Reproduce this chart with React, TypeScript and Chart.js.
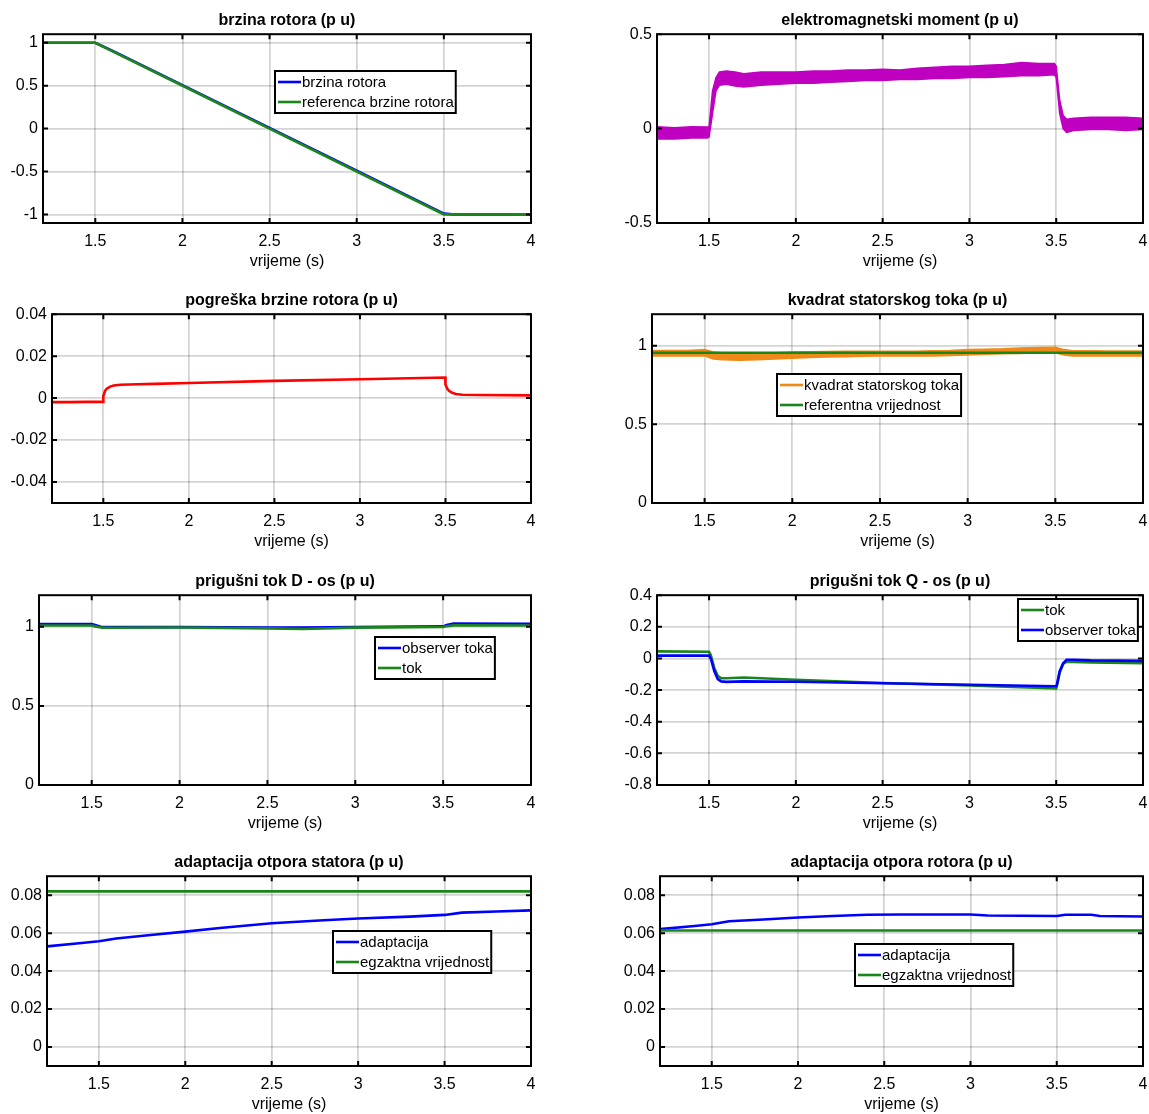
import React, { useEffect, useRef } from "react";
import { Chart, registerables } from "chart.js";
Chart.register(...registerables);

const FONT = "'Liberation Sans', Arial, Helvetica, sans-serif";
const BLUE = "#0000ff";
const GREEN = "#1a861a";
const RED = "#ff0000";
const MAGENTA = "#c000c0";
const ORANGE = "#ee8a18";

// shared x axis
const xTicks = [1.5, 2, 2.5, 3, 3.5, 4];
const xMin = 1.2;
const xMax = 4;

// 1) brzina rotora
const speedT = [1.2, 1.5, 1.6, 2.0, 2.5, 3.0, 3.5, 3.55, 4.0];
const speedRotor = [1.0, 1.0, 0.906, 0.507, 0.008, -0.491, -0.99, -0.999, -1.0];
const refT = [1.2, 1.5, 3.5, 4.0];
const speedRef = [1.0, 1.0, -1.0, -1.0];
const speedYTicks = [-1, -0.5, 0, 0.5, 1];

// 2) elektromagnetski moment (noisy band: upper / lower envelope)
const temT = [1.2, 1.3, 1.4, 1.49, 1.5, 1.52, 1.54, 1.56, 1.6, 1.65, 1.7, 1.8, 1.9, 2.0, 2.1, 2.2, 2.3, 2.4, 2.5, 2.6, 2.7, 2.8, 2.9, 3.0, 3.1, 3.2, 3.3, 3.4, 3.49, 3.5, 3.52, 3.54, 3.56, 3.6, 3.7, 3.8, 3.9, 4.0];
const temUpper = [0.01, 0.005, 0.01, 0.008, 0.01, 0.2, 0.27, 0.3, 0.305, 0.3, 0.29, 0.3, 0.3, 0.3, 0.305, 0.305, 0.31, 0.31, 0.315, 0.31, 0.32, 0.325, 0.33, 0.33, 0.335, 0.34, 0.35, 0.345, 0.345, 0.33, 0.15, 0.07, 0.05, 0.055, 0.06, 0.06, 0.06, 0.055];
const temLower = [-0.055, -0.055, -0.05, -0.05, -0.045, 0.08, 0.2, 0.23, 0.235, 0.225, 0.22, 0.23, 0.235, 0.24, 0.24, 0.245, 0.25, 0.255, 0.255, 0.26, 0.26, 0.265, 0.265, 0.27, 0.27, 0.275, 0.28, 0.28, 0.285, 0.27, 0.08, 0.0, -0.02, -0.01, -0.005, -0.005, -0.01, -0.005];
const temYTicks = [-0.5, 0, 0.5];

// 3) pogreška brzine rotora
const errT = [1.2, 1.3, 1.4, 1.499, 1.5, 1.51, 1.52, 1.54, 1.56, 1.6, 1.7, 1.8, 2.0, 2.5, 3.0, 3.499, 3.5, 3.51, 3.52, 3.54, 3.56, 3.6, 3.7, 4.0];
const errVal = [-0.0019, -0.0019, -0.0018, -0.0018, 0.001, 0.0035, 0.0045, 0.0055, 0.006, 0.0064, 0.0066, 0.0068, 0.0072, 0.0082, 0.009, 0.0098, 0.0065, 0.0045, 0.0035, 0.0025, 0.002, 0.0016, 0.0015, 0.0013];
const errYTicks = [-0.04, -0.02, 0, 0.02, 0.04];

// 4) kvadrat statorskog toka (noisy band) + reference
const fsT = [1.2, 1.3, 1.4, 1.5, 1.55, 1.6, 1.7, 1.8, 1.9, 2.0, 2.1, 2.2, 2.3, 2.4, 2.5, 2.6, 2.7, 2.8, 2.9, 3.0, 3.1, 3.2, 3.3, 3.4, 3.5, 3.55, 3.6, 3.7, 3.8, 3.9, 4.0];
const fsUpper = [0.97, 0.97, 0.97, 0.975, 0.96, 0.955, 0.955, 0.955, 0.955, 0.96, 0.962, 0.963, 0.965, 0.965, 0.965, 0.965, 0.965, 0.968, 0.97, 0.975, 0.978, 0.98, 0.985, 0.988, 0.99, 0.975, 0.968, 0.968, 0.966, 0.966, 0.966];
const fsLower = [0.935, 0.935, 0.935, 0.935, 0.915, 0.91, 0.908, 0.91, 0.915, 0.92, 0.925, 0.928, 0.93, 0.932, 0.935, 0.935, 0.935, 0.935, 0.938, 0.94, 0.945, 0.948, 0.95, 0.955, 0.955, 0.94, 0.935, 0.935, 0.935, 0.935, 0.935];
const fsRefT = [1.2, 4.0];
const fsRef = [0.955, 0.955];
const fsYTicks = [0, 0.5, 1];

// 5) prigušni tok D - os
const dT = [1.2, 1.5, 1.52, 1.56, 2.0, 2.5, 2.7, 3.0, 3.5, 3.52, 3.56, 4.0];
const dObserver = [1.018, 1.018, 1.012, 0.998, 0.998, 0.996, 0.995, 0.999, 1.003, 1.012, 1.02, 1.019];
const dTok = [1.008, 1.008, 1.003, 0.994, 0.996, 0.99, 0.986, 0.995, 1.0, 1.004, 1.009, 1.008];
const dYTicks = [0, 0.5, 1];

// 6) prigušni tok Q - os
const qT = [1.2, 1.5, 1.51, 1.53, 1.55, 1.57, 1.6, 1.7, 2.0, 2.5, 3.0, 3.5, 3.505, 3.52, 3.54, 3.56, 3.6, 3.7, 4.0];
const qTok = [0.045, 0.042, 0.02, -0.06, -0.11, -0.125, -0.125, -0.12, -0.135, -0.155, -0.17, -0.19, -0.17, -0.09, -0.035, -0.02, -0.022, -0.025, -0.03];
const qObserver = [0.018, 0.018, 0.0, -0.08, -0.13, -0.145, -0.148, -0.145, -0.147, -0.157, -0.166, -0.176, -0.16, -0.08, -0.03, -0.008, -0.008, -0.012, -0.015];
const qYTicks = [-0.8, -0.6, -0.4, -0.2, 0, 0.2, 0.4];

// 7) adaptacija otpora statora
const rsT = [1.2, 1.4, 1.5, 1.6, 1.8, 2.0, 2.2, 2.5, 2.8, 3.0, 3.3, 3.5, 3.6, 3.8, 4.0];
const rsAdapt = [0.053, 0.0548, 0.0557, 0.0572, 0.059, 0.0608, 0.0627, 0.0652, 0.0668, 0.0677, 0.0687, 0.0696, 0.0708, 0.0714, 0.072];
const rsExactT = [1.2, 4.0];
const rsExact = [0.082, 0.082];

// 8) adaptacija otpora rotora
const rrT = [1.2, 1.4, 1.5, 1.6, 1.8, 2.0, 2.2, 2.4, 2.6, 3.0, 3.1, 3.5, 3.55, 3.7, 3.75, 4.0];
const rrAdapt = [0.0621, 0.0638, 0.0647, 0.0663, 0.0672, 0.0682, 0.069, 0.0697, 0.0698, 0.0698, 0.0693, 0.069, 0.0697, 0.0697, 0.069, 0.0688];
const rrExactT = [1.2, 4.0];
const rrExact = [0.0614, 0.0614];
const rYTicks = [0, 0.02, 0.04, 0.06, 0.08];

type Line = { kind: "line"; x: number[]; y: number[]; color: string; order: number };
type Band = { kind: "band"; x: number[]; hi: number[]; lo: number[]; color: string; order: number };
type LegendItem = { label: string; color: string };
type Spec = {
  title: string;
  col: 0 | 1;
  t: number; b: number; l: number; r: number;
  yMin: number; yMax: number; yTicks: number[];
  series: (Line | Band)[];
  legend?: { left: number; top: number; items: LegendItem[] };
};

const specs: Spec[] = [
  {
    title: "brzina rotora (p u)", col: 0, t: 34, b: 223, l: 43, r: 531,
    yMin: -1.1, yMax: 1.1, yTicks: speedYTicks,
    series: [
      { kind: "line", x: speedT, y: speedRotor, color: BLUE, order: 2 },
      { kind: "line", x: refT, y: speedRef, color: GREEN, order: 1 },
    ],
    legend: { left: 275, top: 71, items: [{ label: "brzina rotora", color: BLUE }, { label: "referenca brzine rotora", color: GREEN }] },
  },
  {
    title: "elektromagnetski moment (p u)", col: 1, t: 34, b: 223, l: 657, r: 1143,
    yMin: -0.5, yMax: 0.5, yTicks: temYTicks,
    series: [{ kind: "band", x: temT, hi: temUpper, lo: temLower, color: MAGENTA, order: 1 }],
  },
  {
    title: "pogreška brzine rotora (p u)", col: 0, t: 314, b: 503, l: 52, r: 531,
    yMin: -0.05, yMax: 0.04, yTicks: errYTicks,
    series: [{ kind: "line", x: errT, y: errVal, color: RED, order: 1 }],
  },
  {
    title: "kvadrat statorskog toka (p u)", col: 1, t: 314, b: 503, l: 652, r: 1143,
    yMin: 0, yMax: 1.2, yTicks: fsYTicks,
    series: [
      { kind: "band", x: fsT, hi: fsUpper, lo: fsLower, color: ORANGE, order: 2 },
      { kind: "line", x: fsRefT, y: fsRef, color: GREEN, order: 1 },
    ],
    legend: { left: 777, top: 374, items: [{ label: "kvadrat statorskog toka", color: ORANGE }, { label: "referentna vrijednost", color: GREEN }] },
  },
  {
    title: "prigušni tok D - os (p u)", col: 0, t: 595, b: 785, l: 39, r: 531,
    yMin: 0, yMax: 1.2, yTicks: dYTicks,
    series: [
      { kind: "line", x: dT, y: dObserver, color: BLUE, order: 2 },
      { kind: "line", x: dT, y: dTok, color: GREEN, order: 1 },
    ],
    legend: { left: 375, top: 637, items: [{ label: "observer toka", color: BLUE }, { label: "tok", color: GREEN }] },
  },
  {
    title: "prigušni tok Q - os (p u)", col: 1, t: 595, b: 785, l: 657, r: 1143,
    yMin: -0.8, yMax: 0.4, yTicks: qYTicks,
    series: [
      { kind: "line", x: qT, y: qTok, color: GREEN, order: 2 },
      { kind: "line", x: qT, y: qObserver, color: BLUE, order: 1 },
    ],
    legend: { left: 1018, top: 599, items: [{ label: "tok", color: GREEN }, { label: "observer toka", color: BLUE }] },
  },
  {
    title: "adaptacija otpora statora (p u)", col: 0, t: 876, b: 1066, l: 47, r: 531,
    yMin: -0.01, yMax: 0.09, yTicks: rYTicks,
    series: [
      { kind: "line", x: rsT, y: rsAdapt, color: BLUE, order: 2 },
      { kind: "line", x: rsExactT, y: rsExact, color: GREEN, order: 1 },
    ],
    legend: { left: 333, top: 931, items: [{ label: "adaptacija", color: BLUE }, { label: "egzaktna vrijednost", color: GREEN }] },
  },
  {
    title: "adaptacija otpora rotora (p u)", col: 1, t: 876, b: 1066, l: 660, r: 1143,
    yMin: -0.01, yMax: 0.09, yTicks: rYTicks,
    series: [
      { kind: "line", x: rrT, y: rrAdapt, color: BLUE, order: 2 },
      { kind: "line", x: rrExactT, y: rrExact, color: GREEN, order: 1 },
    ],
    legend: { left: 855, top: 944, items: [{ label: "adaptacija", color: BLUE }, { label: "egzaktna vrijednost", color: GREEN }] },
  },
];

const COL_LEFT = [0, 578];
const COL_RIGHT = [545, 1149];

function pts(x: number[], y: number[]) {
  return x.map((v, i) => ({ x: v, y: y[i] }));
}

function Panel({ spec }: { spec: Spec }) {
  const ref = useRef<HTMLCanvasElement | null>(null);
  const cLeft = COL_LEFT[spec.col];
  const cTop = spec.t - 34;
  const cW = COL_RIGHT[spec.col] - cLeft;
  const cH = spec.b - spec.t + 84;

  useEffect(() => {
    if (!ref.current) return;
    const datasets: any[] = [];
    for (const s of spec.series) {
      if (s.kind === "line") {
        datasets.push({
          data: pts(s.x, s.y), borderColor: s.color, borderWidth: 2.6, pointRadius: 0,
          fill: false, tension: 0, order: s.order,
        });
      } else {
        datasets.push({
          data: pts(s.x, s.hi), borderColor: s.color, backgroundColor: s.color, borderWidth: 1.5,
          pointRadius: 0, fill: "+1", tension: 0, order: s.order,
        });
        datasets.push({
          data: pts(s.x, s.lo), borderColor: s.color, borderWidth: 1.5,
          pointRadius: 0, fill: false, tension: 0, order: s.order,
        });
      }
    }

    const framePlugin = {
      id: "matlabFrame",
      afterDraw(chart: any) {
        const ctx = chart.ctx as CanvasRenderingContext2D;
        const a = chart.chartArea;
        const xs = chart.scales.x;
        const ys = chart.scales.y;
        ctx.save();
        ctx.strokeStyle = "#000";
        ctx.lineWidth = 2;
        const tl = 5;
        ctx.beginPath();
        for (const v of xTicks) {
          const px = xs.getPixelForValue(v);
          ctx.moveTo(px, a.bottom); ctx.lineTo(px, a.bottom - tl);
          ctx.moveTo(px, a.top); ctx.lineTo(px, a.top + tl);
        }
        for (const v of spec.yTicks) {
          const py = ys.getPixelForValue(v);
          ctx.moveTo(a.left, py); ctx.lineTo(a.left + tl, py);
          ctx.moveTo(a.right, py); ctx.lineTo(a.right - tl, py);
        }
        ctx.stroke();
        ctx.strokeRect(a.left, a.top, a.right - a.left, a.bottom - a.top);

        if (spec.legend) {
          const lg = spec.legend;
          ctx.font = `15px ${FONT}`;
          let tw = 0;
          for (const it of lg.items) tw = Math.max(tw, ctx.measureText(it.label).width);
          const bx = lg.left - cLeft;
          const by = lg.top - cTop;
          const rowH = 20;
          const w = 27 + tw + 2;
          const h = lg.items.length * rowH + 2;
          ctx.fillStyle = "#fff";
          ctx.fillRect(bx, by, w, h);
          ctx.lineWidth = 2;
          ctx.strokeStyle = "#000";
          ctx.strokeRect(bx, by, w, h);
          lg.items.forEach((it, i) => {
            const cy = by + 1 + rowH * (i + 0.5);
            ctx.strokeStyle = it.color;
            ctx.lineWidth = 2.6;
            ctx.beginPath();
            ctx.moveTo(bx + 3, cy);
            ctx.lineTo(bx + 26, cy);
            ctx.stroke();
            ctx.fillStyle = "#000";
            ctx.textBaseline = "middle";
            ctx.textAlign = "left";
            ctx.fillText(it.label, bx + 27, cy + 1);
          });
        }
        ctx.restore();
      },
    };

    const gridColor = "rgba(0,0,0,0.17)";
    const chart = new Chart(ref.current, {
      type: "line",
      data: { datasets },
      options: {
        animation: false,
        responsive: false,
        maintainAspectRatio: false,
        devicePixelRatio: 1,
        events: [],
        layout: { padding: { left: 0, top: 0, bottom: 0, right: COL_RIGHT[spec.col] - spec.r } },
        plugins: {
          legend: { display: false },
          tooltip: { enabled: false },
          title: {
            display: true,
            text: spec.title,
            color: "#000",
            fullSize: false,
            font: { family: FONT, size: 16, weight: "bold" },
            padding: { top: 11, bottom: 4 },
          },
        },
        scales: {
          x: {
            type: "linear",
            min: xMin,
            max: xMax,
            afterBuildTicks: (s: any) => { s.ticks = xTicks.map((v) => ({ value: v })); },
            afterFit: (s: any) => { s.height = 50; s.paddingLeft = 0; s.paddingRight = 0; },
            ticks: {
              color: "#000", font: { family: FONT, size: 16 }, padding: 9,
              maxRotation: 0, autoSkip: false, callback: (v: any) => String(v),
            },
            grid: { color: gridColor, lineWidth: 1.8, drawTicks: false },
            border: { display: false },
            title: {
              display: true, text: "vrijeme (s)", color: "#000",
              font: { family: FONT, size: 16 }, padding: { top: 0, bottom: 2 },
            },
          },
          y: {
            type: "linear",
            min: spec.yMin,
            max: spec.yMax,
            afterBuildTicks: (s: any) => { s.ticks = spec.yTicks.map((v) => ({ value: v })); },
            afterFit: (s: any) => { s.width = spec.l - cLeft; s.paddingTop = 0; s.paddingBottom = 0; },
            ticks: {
              color: "#000", font: { family: FONT, size: 16 }, padding: 5,
              autoSkip: false, callback: (v: any) => String(v),
            },
            grid: { color: gridColor, lineWidth: 1.8, drawTicks: false },
            border: { display: false },
          },
        },
      } as any,
      plugins: [framePlugin],
    });
    return () => chart.destroy();
  }, []);

  return (
    <canvas
      ref={ref}
      width={cW}
      height={cH}
      style={{ position: "absolute", left: cLeft, top: cTop, width: cW, height: cH }}
    />
  );
}

export default function App() {
  return (
    <div style={{ position: "absolute", left: 0, top: 0, width: 1149, height: 1114, background: "#fff" }}>
      {specs.map((s, i) => (
        <Panel key={i} spec={s} />
      ))}
    </div>
  );
}
